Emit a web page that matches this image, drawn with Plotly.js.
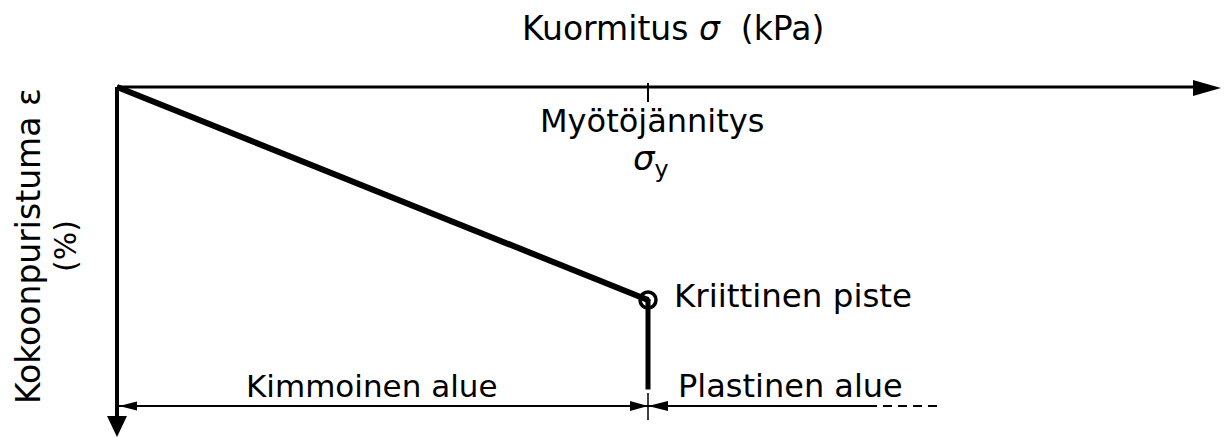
<!DOCTYPE html>
<html>
<head>
<meta charset="utf-8">
<script src="https://cdn.plot.ly/plotly-3.0.1.min.js"></script>
<style>html,body{margin:0;padding:0;background:#fff;}#chart{width:1226px;height:438px;}</style>
</head>
<body>
<div id="chart"></div>
<script>
// Schematic data (normalised: sigma / sigma_y, epsilon / epsilon_critical)
const sigmaElastic = [0, 1];
const epsElastic = [0, 1];
const sigmaPlastic = [1, 1];
const epsPlastic = [1, 1.42];
const criticalPoint = {sigma: [1], eps: [1]};
const labels = {
  xTitle: "Kuormitus <i>σ</i>  (kPa)",
  yTitle: "Kokoonpuristuma ε",
  yUnit: "(%)",
  yieldName: "Myötöjännitys",
  yieldSym: "<i>σ</i><sub>y</sub>",
  critical: "Kriittinen piste",
  elastic: "Kimmoinen alue",
  plastic: "Plastinen alue"
};

// pixel <-> data mapping helpers (plot covers full figure)
const W = 1226, H = 438;
const X0 = 117, Y0 = 87, SX = 531, SY = 213;
const px = p => (p - X0) / SX;
const py = p => (p - Y0) / SY;
const tri = pts => 'M ' + pts.map(p => px(p[0]) + ',' + py(p[1])).join(' L ') + ' Z';

const black = '#000';
const FONT = 'DejaVu Sans, sans-serif';

const traces = [
  {x: sigmaElastic, y: epsElastic, mode: 'lines', line: {color: black, width: 6}, hoverinfo: 'skip'},
  {x: sigmaPlastic, y: epsPlastic, mode: 'lines', line: {color: black, width: 5}, hoverinfo: 'skip'},
  {x: criticalPoint.sigma, y: criticalPoint.eps, mode: 'markers',
   marker: {symbol: 'circle-open-dot', size: 16, color: black, line: {width: 3.5, color: black}}, hoverinfo: 'skip'}
];

const yd = 406; // dimension line pixel row
const shapes = [
  // horizontal axis
  {type: 'line', x0: 0, y0: 0, x1: px(1198), y1: 0, line: {color: black, width: 3}},
  {type: 'path', path: tri([[1193, 80], [1221, 88], [1193, 96]]), fillcolor: black, line: {width: 0}},
  // vertical axis
  {type: 'line', x0: 0, y0: 0, x1: 0, y1: py(420), line: {color: black, width: 4}},
  {type: 'path', path: tri([[107, 416], [127, 416], [117, 437]]), fillcolor: black, line: {width: 0}},
  // yield tick on top axis
  {type: 'line', x0: 1, y0: py(83), x1: 1, y1: py(102), line: {color: black, width: 2}},
  // dimension line
  {type: 'line', x0: 0, y0: py(yd), x1: px(868), y1: py(yd), line: {color: black, width: 1.8}},
  {type: 'line', x0: px(868), y0: py(yd), x1: px(942), y1: py(yd), line: {color: black, width: 1.8, dash: '9px,6px'}},
  {type: 'line', x0: 1, y0: py(393), x1: 1, y1: py(420), line: {color: black, width: 1.5}},
  {type: 'path', path: tri([[119, yd], [137, yd - 4.5], [137, yd + 4.5]]), fillcolor: black, line: {width: 0}},
  {type: 'path', path: tri([[648, yd], [630, yd - 5], [630, yd + 5]]), fillcolor: black, line: {width: 0}},
  {type: 'path', path: tri([[648, yd], [668, yd - 5], [668, yd + 5]]), fillcolor: black, line: {width: 0}}
];

const ann = (text, x, y, size, opts) => Object.assign({
  text: text, x: px(x), y: py(y), xref: 'x', yref: 'y', showarrow: false,
  font: {family: FONT, size: size, color: black}, xanchor: 'center', yanchor: 'middle'
}, opts || {});

const annotations = [
  ann(labels.xTitle, 673, 28, 33),
  ann(labels.yTitle, 28, 246, 33, {textangle: -90}),
  ann(labels.yUnit, 65, 246, 30, {textangle: -90}),
  ann(labels.yieldName, 652, 121, 32),
  ann(labels.yieldSym, 651, 160, 34),
  ann(labels.critical, 672, 296, 32.5, {xanchor: 'left'}),
  ann(labels.elastic, 371, 386, 31),
  ann(labels.plastic, 676, 386, 32, {xanchor: 'left'})
];

const layout = {
  width: W, height: H,
  margin: {l: 0, r: 0, t: 0, b: 0},
  paper_bgcolor: '#fff', plot_bgcolor: '#fff',
  showlegend: false,
  xaxis: {range: [px(0), px(W)], visible: false, fixedrange: true},
  yaxis: {range: [py(H), py(0)], visible: false, fixedrange: true},
  shapes: shapes,
  annotations: annotations
};

Plotly.newPlot('chart', traces, layout, {staticPlot: true, displayModeBar: false});
</script>
</body>
</html>
